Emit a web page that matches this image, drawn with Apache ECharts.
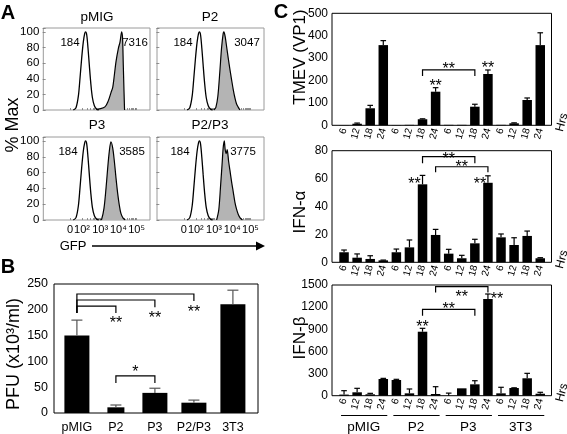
<!DOCTYPE html>
<html><head><meta charset="utf-8">
<script src="https://cdn.jsdelivr.net/npm/echarts@6/dist/echarts.min.js"></script>
<style>html,body{margin:0;padding:0;background:#fff}#c{width:567px;height:434px}</style>
</head><body><div id="c"></div>
<script>
// ---------- Panel A: flow histograms (x = log10 GFP, y = % Max) ----------
const histTitles = ['pMIG', 'P2', 'P3', 'P2/P3'];
const openMFI = ['184', '184', '184', '184'];
const filledMFI = ['7316', '3047', '3585', '3775'];
const openCurve = [[1.52,0],[1.67,3],[1.80,18],[1.89,41],[1.98,66],[2.07,87],[2.15,98],[2.20,100],[2.26,96],[2.33,79],[2.40,58],[2.48,35],[2.57,16],[2.68,5.5],[2.81,1],[2.92,0]];
const filledPMIG = [[2.80,0],[2.90,1],[3.26,4],[3.45,12],[3.59,22],[3.69,29],[3.76,41],[3.87,62],[4.00,79],[4.09,87],[4.18,100],[4.23,92],[4.27,58],[4.31,24],[4.34,0]];
const filledP2 = [[2.99,0],[3.10,3.4],[3.21,18],[3.32,50],[3.41,79],[3.50,98],[3.54,100],[3.61,94],[3.69,81],[3.78,66],[3.87,52],[3.96,39],[4.05,26.5],[4.14,16],[4.23,8],[4.33,3.4],[4.42,0]];
const filledP3 = [[3.00,0],[3.08,1],[3.21,15],[3.32,40],[3.41,65],[3.50,86.5],[3.59,99],[3.69,91],[3.78,74],[3.87,53],[3.96,34],[4.05,19],[4.14,8.4],[4.27,2],[4.38,0]];
const filledP2P3 = [[3.14,0],[3.26,13],[3.36,44],[3.45,74],[3.50,91],[3.56,100],[3.61,89],[3.67,84],[3.72,89],[3.80,74],[3.87,63],[3.96,48.5],[4.05,36],[4.14,23],[4.23,14],[4.33,7],[4.45,2],[4.56,0]];
const filledCurves = [filledPMIG, filledP2, filledP3, filledP2P3];
const gfpTickValues = [1.34, 2, 3, 4, 5];
const gfpTickLabels = ['0', '10²', '10³', '10⁴', '10⁵'];

// ---------- Panel B: PFU ----------
const pfuCats = ['pMIG', 'P2', 'P3', 'P2/P3', '3T3'];
const pfuMean = [150, 11, 39, 20, 210.6];
const pfuSD = [30, 4.5, 9, 5, 27.4];
// brackets: [fromIdx, toIdx, lineValue, fromEndValue, toEndValue]
const pfuBrackets = [[0,3,230.6,194,217],[0,2,219,194,205],[0,1,207,194,194],[1,2,72,58,58]];
// stars: [fromIdx, toIdx, value, text]
const pfuStars = [[1,1,182,'**'],[2,2,192,'**'],[3,3,203,'**'],[1,2,87,'*']];

// ---------- Panel C: time courses ----------
const groups = ['pMIG', 'P2', 'P3', '3T3'];
const hours = ['6', '12', '18', '24'];
const tmev   = [1,7,76,358,  1,2,27,150,  2,2,83,229,  2,9,113,358];
const tmevSD = [0,3,13,20,   0,0,2,18,    0,0,11,18,   0,2,9,55];
const ifna   = [7.2,3.3,2.4,1.4,  7.2,10.7,55.9,19.6,  6.2,2.9,13.6,57,  17.9,12.4,18.9,2.9];
const ifnaSD = [1.6,2.7,2.3,0.2,  2.3,5.3,6.4,4,       3.1,2.1,2.9,5,    2.4,5.2,3.5,0.4];
const ifnb   = [15,46,19,226,  213,32,867,23,  0,100,154,1310,  32,104,236,27];
const ifnbSD = [53,54,13,9,    9,59,46,99,     35,0,49,68,      82,3,67,19];
const tmevBrackets = [[6,10,247,220,220]];
const tmevStars = [[6,10,269,'**'],[7,7,195,'**'],[11,11,274,'**']];
const ifnaBrackets = [[6,10,75.7,71,71],[7,11,68.5,64.5,64.5]];
const ifnaStars = [[6,10,77,'**'],[7,11,71,'**'],[6,6,59.5,'**'],[11,11,59.5,'**']];
const ifnbBrackets = [[7,11,1477,1400,1400],[6,10,1171,1084,1084]];
const ifnbStars = [[7,11,1396,'**'],[6,10,1238,'**'],[6,6,994,'**'],[11,11,1374,'**']];

// ---------- layout / styles ----------
const FONT = "'Liberation Sans', Arial, Helvetica, sans-serif";
const hourCats = [];
groups.forEach(() => hours.forEach(h => hourCats.push(h)));
const ifnaStarNudge = [0, 0, -8, -8];
const ifnbStarNudge = [0, 0, 0, 9];
const noNudge = [0, 0, 0, 0];

const chart = echarts.init(document.getElementById('c'));

const histGrids = [
  {left:43.3, top:28, width:106.7, height:82},
  {left:157, top:28, width:107, height:82},
  {left:43.3, top:137, width:106.7, height:83},
  {left:157, top:137, width:107, height:83}
];
const gfpMinor = [];
[2,3,4].forEach(d => { for (let k = 1; k <= 9; k++) gfpMinor.push(d + Math.log10(k)); });
gfpMinor.push(5, 1.34);

const grids = [], xAxes = [], yAxes = [], series = [];
histGrids.forEach((g, k) => {
  grids.push(Object.assign({show:true, borderColor:'#9a9a9a', borderWidth:1, backgroundColor:'rgba(0,0,0,0)'}, g));
  xAxes.push({type:'value', gridIndex:k, min:-0.13, max:5.74,
    axisLine:{show:false}, splitLine:{show:false},
    axisTick:{show:true, inside:true, length:2, customValues:gfpMinor, lineStyle:{color:'#777', width:0.8}},
    axisLabel:{show:k >= 2, customValues:gfpTickValues, hideOverlap:false, fontSize:11, margin:4, color:'#000', fontFamily:FONT,
      formatter: v => { const i = gfpTickValues.findIndex(t => Math.abs(t - v) < 1e-6); return i >= 0 ? gfpTickLabels[i] : ''; }}
  });
  yAxes.push({type:'value', gridIndex:k, min:0, max:105, interval:20,
    axisLine:{show:false}, splitLine:{show:false},
    axisTick:{show:true, length:3, lineStyle:{color:'#777', width:0.8}},
    axisLabel:{show:k % 2 === 0, fontSize:11.5, margin:4, color:'#000', fontFamily:FONT,
      formatter: v => (v <= 100 && v % 20 === 0) ? String(v) : ''}
  });
  series.push({type:'line', xAxisIndex:k, yAxisIndex:k, data:filledCurves[k], smooth:0.3, symbol:'none',
    lineStyle:{color:'#000', width:1.2}, areaStyle:{color:'#b4b4b4', opacity:1}, z:2});
  series.push({type:'line', xAxisIndex:k, yAxisIndex:k, data:openCurve, smooth:0.3, symbol:'none',
    lineStyle:{color:'#000', width:1.3}, z:3});
});

function errRender(capHalf, color, width) {
  return function (params, api) {
    const i = api.value(0), v = api.value(1), sd = api.value(2);
    if (!(sd > 0)) return null;
    const p0 = api.coord([i, v]), p1 = api.coord([i, v + sd]);
    return {type:'group', children:[
      {type:'line', shape:{x1:p0[0], y1:p0[1], x2:p1[0], y2:p1[1]}, style:{stroke:color, lineWidth:width}},
      {type:'line', shape:{x1:p1[0]-capHalf, y1:p1[1], x2:p1[0]+capHalf, y2:p1[1]}, style:{stroke:color, lineWidth:width}}
    ]};
  };
}
function bracketRender(params, api) {
  const a = api.coord([api.value(0), api.value(2)]);
  const b = api.coord([api.value(1), api.value(2)]);
  const a2 = api.coord([api.value(0), api.value(3)]);
  const b2 = api.coord([api.value(1), api.value(4)]);
  return {type:'polyline', shape:{points:[a2, a, b, b2]}, style:{stroke:'#000', lineWidth:1.2, fill:null}};
}
function starRender(stars, nudge, size) {
  return function (params, api) {
    const a = api.coord([api.value(0), api.value(2)]);
    const b = api.coord([api.value(1), api.value(2)]);
    const s = stars[params.dataIndex];
    return {type:'text', x:(a[0] + b[0]) / 2 + nudge[params.dataIndex], y:a[1] + size * 0.3,
      style:{text:s[3], fill:'#000', fontSize:size, fontFamily:FONT,
        align:'center', verticalAlign:'middle', textAlign:'center', textVerticalAlign:'middle'}};
  };
}

// ---- Panel B ----
grids.push({left:57.4, top:284, width:195, height:129});
xAxes.push({type:'category', gridIndex:4, data:pfuCats, axisLine:{show:false}, axisTick:{show:false},
  axisLabel:{interval:0, hideOverlap:false, fontSize:12.5, margin:8, color:'#000', fontFamily:FONT}});
xAxes.push({type:'category', gridIndex:4, data:pfuCats, show:false});
yAxes.push({type:'value', gridIndex:4, min:0, max:250, interval:50, offset:3.4,
  axisLine:{show:false}, splitLine:{show:false}, axisTick:{show:false},
  axisLabel:{fontSize:12.5, margin:6, color:'#000', fontFamily:FONT, formatter: v => String(v)}});
series.push({type:'bar', xAxisIndex:4, yAxisIndex:4, barWidth:25, itemStyle:{color:'#000'},
  data: pfuMean.map((v, i) => i === 1 ? '-' : v)});
series.push({type:'bar', xAxisIndex:5, yAxisIndex:4, barWidth:17, itemStyle:{color:'#000'},
  data: pfuMean.map((v, i) => i === 1 ? v : '-')});
series.push({type:'custom', xAxisIndex:4, yAxisIndex:4, renderItem:errRender(5.5, '#555', 1.2),
  encode:{x:0, y:1}, data: pfuMean.map((v, i) => [i, v, pfuSD[i]]), z:5});
series.push({type:'custom', xAxisIndex:4, yAxisIndex:4, renderItem:bracketRender,
  encode:{x:[0,1], y:[2,3,4]}, data: pfuBrackets, z:5});
series.push({type:'custom', xAxisIndex:4, yAxisIndex:4, renderItem:starRender(pfuStars, [0,0,0,0], 16),
  encode:{x:[0,1], y:2}, data: pfuStars.map(s => [s[0], s[1], s[2]]), z:5});

// ---- Panel C ----
const cPanels = [
  {top:13.3, height:112, max:500, interval:100, vals:tmev, sd:tmevSD, br:tmevBrackets, st:tmevStars, nudge:noNudge},
  {top:150.7, height:111.6, max:80, interval:20, vals:ifna, sd:ifnaSD, br:ifnaBrackets, st:ifnaStars, nudge:ifnaStarNudge},
  {top:285, height:110.7, max:1500, interval:300, vals:ifnb, sd:ifnbSD, br:ifnbBrackets, st:ifnbStars, nudge:ifnbStarNudge}
];
cPanels.forEach((p, j) => {
  const gi = 5 + j, xi = 6 + j, yi = 5 + j;
  grids.push({left:337.5, top:p.top, width:209.3, height:p.height});
  xAxes.push({type:'category', gridIndex:gi, data:hourCats, axisLine:{show:false}, axisTick:{show:false},
    axisLabel:{interval:0, hideOverlap:false, rotate:75, fontSize:10, margin:3, color:'#000', fontFamily:FONT}});
  yAxes.push({type:'value', gridIndex:gi, min:0, max:p.max, interval:p.interval, offset:5.5,
    axisLine:{show:false}, splitLine:{show:false}, axisTick:{show:false},
    axisLabel:{fontSize:12, margin:4, color:'#000', fontFamily:FONT, formatter: v => String(v)}});
  series.push({type:'bar', xAxisIndex:xi, yAxisIndex:yi, barWidth:9.5, itemStyle:{color:'#000'}, data:p.vals});
  series.push({type:'custom', xAxisIndex:xi, yAxisIndex:yi, renderItem:errRender(2.8, '#000', 1.2),
    encode:{x:0, y:1}, data:p.vals.map((v, i) => [i, v, p.sd[i]]), z:5});
  series.push({type:'custom', xAxisIndex:xi, yAxisIndex:yi, renderItem:bracketRender,
    encode:{x:[0,1], y:[2,3,4]}, data:p.br, z:5});
  series.push({type:'custom', xAxisIndex:xi, yAxisIndex:yi, renderItem:starRender(p.st, p.nudge, 16),
    encode:{x:[0,1], y:2}, data:p.st.map(s => [s[0], s[1], s[2]]), z:5});
});

chart.setOption({animation:false, backgroundColor:'#fff', grid:grids, xAxis:xAxes, yAxis:yAxes, series:series});

// ---------- annotations ----------
function txt(x, y, text, size, opts) {
  return Object.assign({type:'text', x:x, y:y, z:100, style:Object.assign({text:text, fill:'#000', fontSize:size, fontFamily:FONT,
    align:'center', verticalAlign:'middle', textAlign:'center', textVerticalAlign:'middle'}, (opts && opts.style) || {})},
    (opts && opts.el) || {});
}
const g = [];
g.push(txt(8, 13, 'A', 20, {style:{fontWeight:'bold'}}));
g.push(txt(8, 267, 'B', 20, {style:{fontWeight:'bold'}}));
g.push(txt(281, 12, 'C', 20, {style:{fontWeight:'bold'}}));
const titlePos = [[97,17],[210,17],[97,125],[210,125]];
const openPos = [[70,43],[183,43],[68,152],[180,152]];
const fillPos = [[135,43],[247,43],[132,152],[243,152]];
histTitles.forEach((t, k) => {
  g.push(txt(titlePos[k][0], titlePos[k][1], t, 13.5));
  g.push(txt(openPos[k][0], openPos[k][1], openMFI[k], 11.5));
  g.push(txt(fillPos[k][0], fillPos[k][1], filledMFI[k], 11.5));
});
g.push(txt(13, 125, '% Max', 18, {el:{rotation:Math.PI/2}}));
g.push(txt(73, 246, 'GFP', 13));
g.push({type:'line', z:100, shape:{x1:92, y1:246, x2:257, y2:246}, style:{stroke:'#000', lineWidth:1.5}});
g.push({type:'polygon', z:100, shape:{points:[[256,241.5],[265,246],[256,250.5]]}, style:{fill:'#000'}});
g.push(txt(14, 354, 'PFU (x10³/ml)', 18, {el:{rotation:Math.PI/2}}));
g.push({type:'rect', z:100, shape:{x:54, y:284, width:204, height:129}, style:{fill:null, stroke:'#000', lineWidth:1}});
const cTitles = [['TMEV (VP1)', 57], ['IFN-α', 212], ['IFN-β', 338]];
cPanels.forEach((p, j) => {
  g.push({type:'rect', z:100, shape:{x:332, y:p.top, width:219.5, height:p.height}, style:{fill:null, stroke:'#000', lineWidth:1}});
  g.push(txt(300, cTitles[j][1], cTitles[j][0], 17, {el:{rotation:Math.PI/2}}));
  g.push(txt(562, p.top + p.height - 3, 'Hrs', 12, {el:{rotation:75 * Math.PI / 180}}));
});
groups.forEach((name, gi) => {
  const x0 = chart.convertToPixel({xAxisIndex:8}, gi * 4);
  const x1 = chart.convertToPixel({xAxisIndex:8}, gi * 4 + 3);
  g.push({type:'line', z:100, shape:{x1:x0 - 3, y1:415.5, x2:x1 + 4, y2:415.5}, style:{stroke:'#000', lineWidth:1.2}});
  g.push(txt((x0 + x1) / 2, 427, name, 13.5));
});
chart.setOption({graphic:{elements:g}});
</script>
</body></html>
